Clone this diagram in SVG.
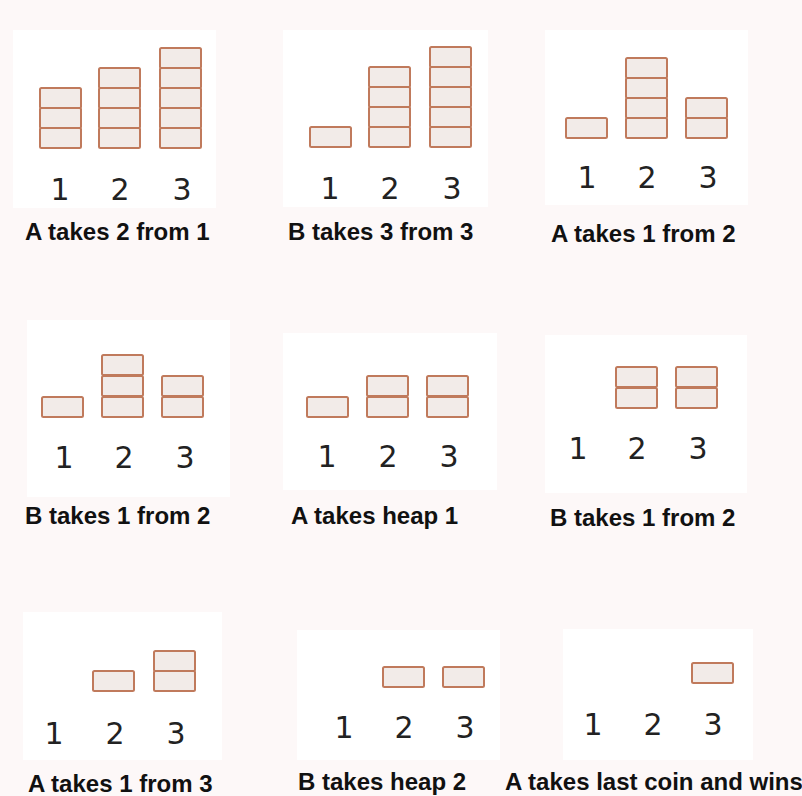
<svg xmlns="http://www.w3.org/2000/svg" width="802" height="796" viewBox="0 0 802 796">
<style>
.bg{fill:#fdf8f8}
.p{fill:#ffffff}
.b{fill:#f2ebe8;stroke:#c07a5c;stroke-width:2}
.n{font-family:"DejaVu Sans",sans-serif;font-size:30px;fill:#222;text-anchor:middle}
.l{font-family:"Liberation Sans",Arial,sans-serif;font-size:24px;font-weight:bold;fill:#111}
</style>
<defs>
<rect id="k" class="b" width="41" height="20" rx="1.5"/>
</defs>
<rect class="bg" width="802" height="796"/>
<g id="panel1">
<rect class="p" x="13" y="30" width="203" height="178"/>
<use href="#k" x="40" y="88"/><use href="#k" x="40" y="108"/><use href="#k" x="40" y="128"/>
<use href="#k" x="99" y="68"/><use href="#k" x="99" y="88"/><use href="#k" x="99" y="108"/><use href="#k" x="99" y="128"/>
<use href="#k" x="160" y="48"/><use href="#k" x="160" y="68"/><use href="#k" x="160" y="88"/><use href="#k" x="160" y="108"/><use href="#k" x="160" y="128"/>
<text class="n" x="60" y="200">1</text><text class="n" x="120" y="200">2</text><text class="n" x="182" y="200">3</text>
<text class="l" x="25" y="240">A takes 2 from 1</text>
</g>
<g id="panel2">
<rect class="p" x="283" y="30" width="205" height="177"/>
<use href="#k" x="310" y="127"/>
<use href="#k" x="369" y="67"/><use href="#k" x="369" y="87"/><use href="#k" x="369" y="107"/><use href="#k" x="369" y="127"/>
<use href="#k" x="430" y="47"/><use href="#k" x="430" y="67"/><use href="#k" x="430" y="87"/><use href="#k" x="430" y="107"/><use href="#k" x="430" y="127"/>
<text class="n" x="330" y="199">1</text><text class="n" x="390" y="199">2</text><text class="n" x="452" y="199">3</text>
<text class="l" x="288" y="240">B takes 3 from 3</text>
</g>
<g id="panel3">
<rect class="p" x="545" y="30" width="203" height="175"/>
<use href="#k" x="566" y="118"/>
<use href="#k" x="626" y="58"/><use href="#k" x="626" y="78"/><use href="#k" x="626" y="98"/><use href="#k" x="626" y="118"/>
<use href="#k" x="686" y="98"/><use href="#k" x="686" y="118"/>
<text class="n" x="587" y="188">1</text><text class="n" x="647" y="188">2</text><text class="n" x="708" y="188">3</text>
<text class="l" x="551" y="242">A takes 1 from 2</text>
</g>
<g id="panel4">
<rect class="p" x="27" y="320" width="203" height="177"/>
<use href="#k" x="42" y="397"/>
<use href="#k" x="102" y="355"/><use href="#k" x="102" y="376"/><use href="#k" x="102" y="397"/>
<use href="#k" x="162" y="376"/><use href="#k" x="162" y="397"/>
<text class="n" x="64" y="468">1</text><text class="n" x="124" y="468">2</text><text class="n" x="185" y="468">3</text>
<text class="l" x="25" y="524">B takes 1 from 2</text>
</g>
<g id="panel5">
<rect class="p" x="283" y="333" width="214" height="157"/>
<use href="#k" x="307" y="397"/>
<use href="#k" x="367" y="376"/><use href="#k" x="367" y="397"/>
<use href="#k" x="427" y="376"/><use href="#k" x="427" y="397"/>
<text class="n" x="327" y="467">1</text><text class="n" x="388" y="467">2</text><text class="n" x="449" y="467">3</text>
<text class="l" x="291" y="524">A takes heap 1</text>
</g>
<g id="panel6">
<rect class="p" x="545" y="335" width="202" height="158"/>
<use href="#k" x="616" y="367"/><use href="#k" x="616" y="388"/>
<use href="#k" x="676" y="367"/><use href="#k" x="676" y="388"/>
<text class="n" x="578" y="459">1</text><text class="n" x="637" y="459">2</text><text class="n" x="698" y="459">3</text>
<text class="l" x="550" y="526">B takes 1 from 2</text>
</g>
<g id="panel7">
<rect class="p" x="23" y="612" width="199" height="148"/>
<use href="#k" x="93" y="671"/>
<use href="#k" x="154" y="651"/><use href="#k" x="154" y="671"/>
<text class="n" x="54" y="744">1</text><text class="n" x="115" y="744">2</text><text class="n" x="176" y="744">3</text>
<text class="l" x="28" y="792">A takes 1 from 3</text>
</g>
<g id="panel8">
<rect class="p" x="297" y="630" width="203" height="130"/>
<use href="#k" x="383" y="667"/>
<use href="#k" x="443" y="667"/>
<text class="n" x="344" y="738">1</text><text class="n" x="404" y="738">2</text><text class="n" x="465" y="738">3</text>
<text class="l" x="298" y="790">B takes heap 2</text>
</g>
<g id="panel9">
<rect class="p" x="563" y="629" width="190" height="131"/>
<use href="#k" x="692" y="663"/>
<text class="n" x="593" y="735">1</text><text class="n" x="653" y="735">2</text><text class="n" x="713" y="735">3</text>
<text class="l" x="505" y="790">A takes last coin and wins</text>
</g>
</svg>
